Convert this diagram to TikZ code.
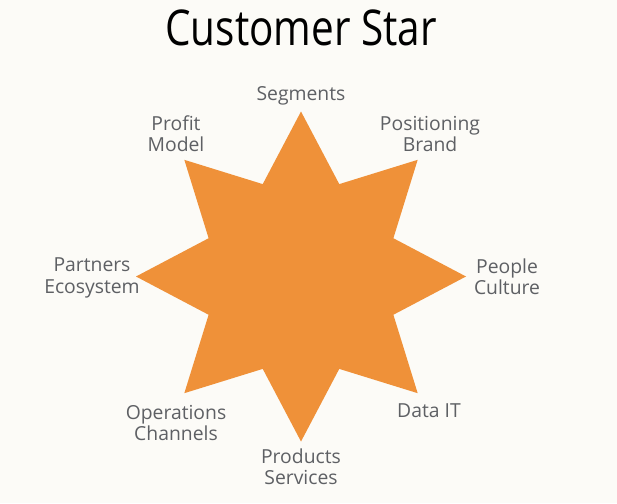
\documentclass[tikz,border=0pt]{standalone}
\usepackage{fontspec}
\setmainfont{Open Sans}
\newfontfamily\titlefont[FakeStretch=0.82]{Open Sans}
\definecolor{starorange}{HTML}{EF9139}
\definecolor{labelgray}{HTML}{5E6064}
\definecolor{paper}{HTML}{FCFBF7}

\begin{document}
\begin{tikzpicture}[x=0.75pt, y=-0.75pt, cap=round,
  starlabel/.style={align=center, text=labelgray, inner sep=0pt,
    font=\fontsize{14.5}{16}\selectfont}]
\fill[paper] (0,0) rectangle (617,503);
\useasboundingbox (0,0) rectangle (617,503);

\node[anchor=base] (title) at (301,46) {\titlefont\fontsize{37}{40}\selectfont Customer Star};

%star
\fill[starorange, shift={(301,276.5)}] (0:165)
  \foreach \a in {0,45,...,315} { -- (\a:165) -- (\a+22.5:100) } -- cycle;

%labels
\node[starlabel] (segments) at (301, 96) {Segments};
\node[starlabel] (positioning) at (430, 134) {Positioning\\Brand};
\node[starlabel] (people) at (507, 277) {People\\Culture};
\node[starlabel] (data) at (429, 411) {Data IT};
\node[starlabel] (products) at (301, 467) {Products\\Services};
\node[starlabel] (operations) at (176, 423) {Operations\\Channels};
\node[starlabel] (partners) at (92, 278) {Partners\\Ecosystem};
\node[starlabel] (profit) at (176, 134) {Profit\\Model};
\end{tikzpicture}
\end{document}
